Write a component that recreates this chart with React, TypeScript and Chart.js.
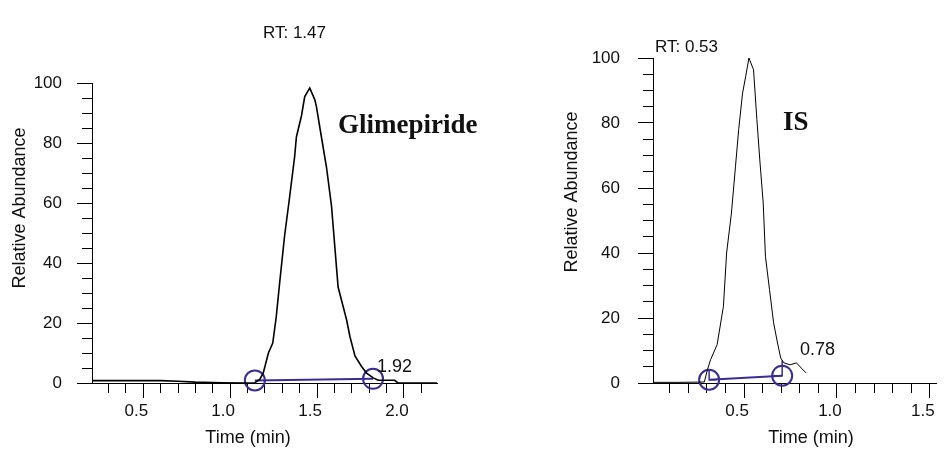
import React, { useEffect, useRef } from 'react';
import { Chart, registerables } from 'chart.js';

Chart.register(...registerables);

// ---------- Data ----------
const glimeTime = [0.205, 0.4, 0.6, 0.7, 0.8, 0.95, 1.1, 1.14, 1.17, 1.19, 1.22, 1.245, 1.265, 1.284, 1.313, 1.342, 1.371, 1.381, 1.41, 1.429, 1.458, 1.487, 1.496, 1.525, 1.554, 1.583, 1.602, 1.621, 1.65, 1.67, 1.689, 1.718, 1.756, 1.785, 1.823, 1.852, 1.9, 1.946, 1.966, 2.05, 2.19];
const glimeAbund = [0.8, 0.8, 0.8, 0.6, 0.3, 0.1, 0.0, 0.0, 1.2, 3.3, 10, 13.3, 22, 33, 49, 62, 75.5, 82, 89, 95.5, 98.3, 94.4, 92.2, 82, 72, 59, 45.5, 32, 25.5, 21, 15.5, 9, 5.5, 3.3, 1.7, 0.9, 0.9, 0.9, 0.0, 0.0, 0.0];
const glimeMarkTime = [1.142, 1.822];
const glimeMarkAbund = [0.87, 1.4];

const isTime = [0.01, 0.15, 0.286, 0.303, 0.32, 0.355, 0.389, 0.406, 0.432, 0.454, 0.471, 0.492, 0.509, 0.526, 0.551, 0.569, 0.586, 0.603, 0.615, 0.637, 0.659, 0.68, 0.697, 0.714, 0.748, 0.782, 0.808, 0.834];
const isAbund = [0.2, 0.2, 0.3, 4.1, 7.2, 11.8, 23.6, 40, 52.3, 66.7, 78, 89.2, 94.4, 100, 96.4, 81, 67.7, 55.4, 39, 28.7, 18.5, 12.3, 7.7, 6.2, 5.6, 6.2, 4.6, 3.1];
const isMarkTime = [0.312, 0.705];
const isMarkAbund = [1.0, 2.26];
const isDropLeftTime = [0.312, 0.312, 0.352];
const isDropLeftAbund = [4.0, 1.0, 1.0];
const isDropRightTime = [0.705, 0.705, 0.654];
const isDropRightAbund = [6.9, 2.26, 2.26];

const yLabelValues = [0, 20, 40, 60, 80, 100];
const glimeXLabelValues = [0.5, 1.0, 1.5, 2.0];
const isXLabelValues = [0.5, 1.0, 1.5];

const glimeRT = 'RT: 1.47';
const isRT = 'RT: 0.53';
const glimeName = 'Glimepiride';
const isName = 'IS';
const glimePeakLabel = '1.92';
const isPeakLabel = '0.78';
const yTitle = 'Relative Abundance';
const xTitle = 'Time (min)';

const PURPLE = '#3b2d8f';
const SANS = '"Liberation Sans", Arial, sans-serif';
const SERIF = '"Liberation Serif", "Times New Roman", serif';

const pts = (xs: number[], ys: number[]) => xs.map((x, i) => ({ x, y: ys[i] }));
const near = (v: number, list: number[]) => list.some((l) => Math.abs(l - v) < 1e-6);

type TextSpec = { t: string; x: number; y: number; font: string; align?: CanvasTextAlign; baseline?: CanvasTextBaseline; rotate?: boolean };

function makePlugin(xMajor: number[], texts: TextSpec[]) {
  return {
    id: 'annot',
    afterDraw(chart: any) {
      const { ctx, chartArea } = chart;
      const xs = chart.scales.x;
      const ys = chart.scales.y;
      ctx.save();
      ctx.strokeStyle = '#000';
      ctx.lineWidth = 1;
      ctx.beginPath();
      for (const v of xMajor) {
        const px = Math.round(xs.getPixelForValue(v) - 0.5) + 0.5;
        ctx.moveTo(px, chartArea.bottom + 9);
        ctx.lineTo(px, chartArea.bottom + 15);
      }
      for (const v of yLabelValues) {
        const py = Math.round(ys.getPixelForValue(v) - 0.5) + 0.5;
        ctx.moveTo(chartArea.left - 9, py);
        ctx.lineTo(chartArea.left - 15, py);
      }
      ctx.stroke();
      ctx.fillStyle = '#111';
      for (const s of texts) {
        ctx.save();
        ctx.font = s.font;
        ctx.textAlign = s.align || 'left';
        ctx.textBaseline = s.baseline || 'alphabetic';
        ctx.translate(s.x, s.y);
        if (s.rotate) ctx.rotate(-Math.PI / 2);
        ctx.fillText(s.t, 0, 0);
        ctx.restore();
      }
      ctx.restore();
    },
  };
}

function makeConfig(o: {
  trace: { x: number; y: number }[];
  traceWidth: number;
  marks: { x: number; y: number }[];
  extra: { x: number; y: number }[][];
  xMin: number;
  xMax: number;
  xMajor: number[];
  yWidth: number;
  yPad: number;
  padding: { left: number; right: number; top: number; bottom: number };
  xHeight: number;
  texts: TextSpec[];
}) {
  const datasets: any[] = [
    {
      data: o.trace,
      showLine: true,
      borderColor: '#000',
      borderWidth: o.traceWidth,
      pointRadius: 0,
      tension: 0,
      clip: false,
    },
    {
      data: o.marks,
      showLine: true,
      borderColor: PURPLE,
      borderWidth: 2,
      pointRadius: 10,
      pointBorderWidth: 2,
      pointBorderColor: PURPLE,
      pointBackgroundColor: 'rgba(0,0,0,0)',
      clip: false,
    },
    ...o.extra.map((d) => ({
      data: d,
      showLine: true,
      borderColor: PURPLE,
      borderWidth: 1.5,
      pointRadius: 0,
      clip: false,
    })),
  ];
  return {
    type: 'scatter' as const,
    data: { datasets },
    options: {
      animation: false,
      responsive: false,
      devicePixelRatio: 1,
      layout: { padding: o.padding },
      plugins: { legend: { display: false }, tooltip: { enabled: false }, title: { display: false } },
      scales: {
        x: {
          type: 'linear',
          min: o.xMin,
          max: o.xMax,
          grid: { display: true, drawOnChartArea: false, drawTicks: true, tickLength: 10, tickColor: '#000', lineWidth: 1 },
          border: { display: true, color: '#000', width: 1 },
          ticks: {
            stepSize: 0.1,
            includeBounds: false,
            autoSkip: false,
            maxRotation: 0,
            minRotation: 0,
            padding: 8,
            labelOffset: -7,
            color: '#111',
            font: { family: SANS, size: 17 },
            callback: (v: number) => (near(v, o.xMajor) ? v.toFixed(1) : ''),
          },
          afterFit: (s: any) => {
            s.height = o.xHeight;
          },
        },
        y: {
          type: 'linear',
          min: 0,
          max: 100,
          grid: { display: true, drawOnChartArea: false, drawTicks: true, tickLength: 10, tickColor: '#000', lineWidth: 1 },
          border: { display: true, color: '#000', width: 1 },
          ticks: {
            stepSize: 5,
            autoSkip: false,
            padding: o.yPad,
            color: '#111',
            font: { family: SANS, size: 17 },
            callback: (v: number) => (near(v, yLabelValues) ? String(Math.round(v)) : ''),
          },
          afterFit: (s: any) => {
            s.width = o.yWidth;
          },
        },
      },
    },
    plugins: [makePlugin(o.xMajor, o.texts)],
  };
}

function ChartCanvas({ left, width, config }: { left: number; width: number; config: any }) {
  const ref = useRef<HTMLCanvasElement | null>(null);
  useEffect(() => {
    if (!ref.current) return;
    const chart = new Chart(ref.current, config);
    return () => chart.destroy();
  }, []);
  return (
    <canvas
      ref={ref}
      width={width}
      height={449}
      style={{ position: 'absolute', left, top: 0, width, height: 449 }}
    />
  );
}

export default function App() {
  const leftConfig = makeConfig({
    trace: pts(glimeTime, glimeAbund),
    traceWidth: 1.6,
    marks: pts(glimeMarkTime, glimeMarkAbund),
    extra: [],
    xMin: 0.205,
    xMax: 2.19,
    xMajor: glimeXLabelValues,
    yWidth: 92,
    yPad: 20,
    padding: { left: 0, right: 43, top: 83, bottom: 0 },
    xHeight: 66,
    texts: [
      { t: glimeRT, x: 263, y: 38, font: `17px ${SANS}` },
      { t: glimeName, x: 338, y: 133, font: `bold 27px ${SERIF}` },
      { t: glimePeakLabel, x: 377, y: 372, font: `18px ${SANS}` },
      { t: yTitle, x: 20, y: 208, font: `18px ${SANS}`, align: 'center', baseline: 'middle', rotate: true },
      { t: xTitle, x: 248, y: 438, font: `18px ${SANS}`, align: 'center', baseline: 'middle' },
    ],
  });
  const rightConfig = makeConfig({
    trace: pts(isTime, isAbund),
    traceWidth: 1,
    marks: pts(isMarkTime, isMarkAbund),
    extra: [pts(isDropLeftTime, isDropLeftAbund), pts(isDropRightTime, isDropRightAbund)],
    xMin: 0.01,
    xMax: 1.535,
    xMajor: isXLabelValues,
    yWidth: 173,
    yPad: 23,
    padding: { left: 0, right: 0, top: 58, bottom: 0 },
    xHeight: 66,
    texts: [
      { t: isRT, x: 175, y: 52, font: `17px ${SANS}` },
      { t: isName, x: 303, y: 130, font: `bold 27px ${SERIF}` },
      { t: isPeakLabel, x: 320, y: 355, font: `18px ${SANS}` },
      { t: yTitle, x: 92, y: 192, font: `18px ${SANS}`, align: 'center', baseline: 'middle', rotate: true },
      { t: xTitle, x: 331, y: 438, font: `18px ${SANS}`, align: 'center', baseline: 'middle' },
    ],
  });
  return (
    <div style={{ position: 'absolute', left: 0, top: 0, width: 950, height: 449, overflow: 'hidden' }}>
      <ChartCanvas left={0} width={480} config={leftConfig} />
      <ChartCanvas left={480} width={470} config={rightConfig} />
    </div>
  );
}
